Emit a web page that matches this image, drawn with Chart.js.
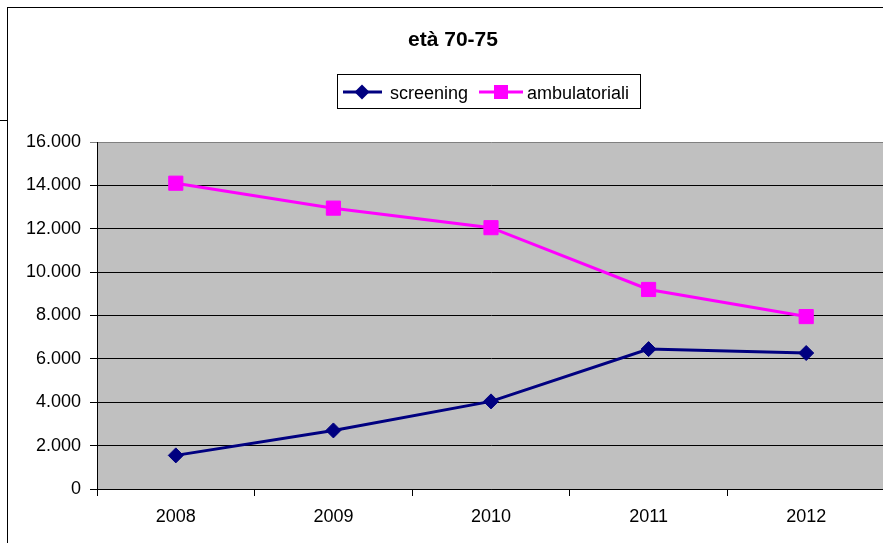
<!DOCTYPE html>
<html>
<head>
<meta charset="utf-8">
<title>età 70-75</title>
<script src="https://cdn.jsdelivr.net/npm/chart.js@4.4.1/dist/chart.umd.min.js"></script>
<style>
  html, body { margin: 0; padding: 0; background: #fff; overflow: hidden; width: 883px; height: 543px; }
  #frame { position: absolute; left: 7px; top: 7px; width: 1000px; height: 1000px; border-left: 1px solid #000; border-top: 1px solid #000; }
  #stub  { position: absolute; left: 0; top: 120px; width: 7px; height: 1px; background: #000; }
  #wrap  { position: absolute; left: 0; top: 0; width: 896px; height: 543px; }
</style>
</head>
<body>
<div id="frame"></div>
<div id="stub"></div>
<div id="wrap"><canvas id="chart" width="896" height="543"></canvas></div>

<script>
// ── Dati ──
const TITLE = 'età 70-75';
const anni = ['2008', '2009', '2010', '2011', '2012'];
const screening      = [1550, 2700, 4040, 6450, 6270];
const ambulatoriali  = [14100, 12950, 12050, 9200, 7950];
const Y_MIN = 0, Y_MAX = 16000, Y_STEP = 2000;

const FONT = "'Liberation Sans', Arial, sans-serif";
const NAVY = '#000080';
const PINK = '#FF00FF';

// numeri all'italiana: 16.000
function fmtIt(v) {
  return String(Math.round(v)).replace(/\B(?=(\d{3})+(?!\d))/g, '.');
}

// sfondo grigio area del grafico
const plotBg = {
  id: 'plotBg',
  beforeDraw(chart) {
    const { ctx, chartArea: a } = chart;
    ctx.save();
    ctx.fillStyle = '#C0C0C0';
    ctx.fillRect(a.left, a.top, a.right - a.left, a.bottom - a.top);
    ctx.restore();
  }
};

// titolo + legenda con cornice (stile Excel)
const header = {
  id: 'header',
  afterDraw(chart) {
    const ctx = chart.ctx;
    ctx.save();
    ctx.fillStyle = '#000';
    ctx.font = 'bold 21px ' + FONT;
    ctx.textAlign = 'center';
    ctx.textBaseline = 'alphabetic';
    ctx.fillText(TITLE, 453, 46);

    // riquadro legenda
    ctx.strokeStyle = '#000';
    ctx.lineWidth = 1;
    ctx.strokeRect(337.5, 74.5, 303, 34);

    const ly = 92;
    // screening
    ctx.strokeStyle = NAVY; ctx.lineWidth = 3;
    ctx.beginPath(); ctx.moveTo(343, ly); ctx.lineTo(382, ly); ctx.stroke();
    ctx.fillStyle = NAVY;
    ctx.beginPath();
    ctx.moveTo(362 - 7.5, ly); ctx.lineTo(362, ly - 7.5); ctx.lineTo(362 + 7.5, ly); ctx.lineTo(362, ly + 7.5);
    ctx.closePath(); ctx.fill();
    // ambulatoriali
    ctx.strokeStyle = PINK;
    ctx.beginPath(); ctx.moveTo(479, ly); ctx.lineTo(523, ly); ctx.stroke();
    ctx.fillStyle = PINK;
    ctx.fillRect(501 - 7, ly - 7, 14, 14);

    ctx.fillStyle = '#000';
    ctx.font = '18px ' + FONT;
    ctx.textAlign = 'left';
    ctx.fillText('screening', 390, 99);
    ctx.fillText('ambulatoriali', 527, 99);
    ctx.restore();
  }
};

new Chart(document.getElementById('chart'), {
  type: 'line',
  data: {
    labels: anni,
    datasets: [
      {
        label: 'screening', data: screening,
        borderColor: NAVY, backgroundColor: NAVY, borderWidth: 3,
        pointStyle: 'rectRot', pointRadius: 7.5, pointBorderWidth: 1,
        pointBackgroundColor: NAVY, pointBorderColor: NAVY, tension: 0
      },
      {
        label: 'ambulatoriali', data: ambulatoriali,
        borderColor: PINK, backgroundColor: PINK, borderWidth: 3,
        pointStyle: 'rect', pointRadius: 10, pointBorderWidth: 1,
        pointBackgroundColor: PINK, pointBorderColor: PINK, tension: 0
      }
    ]
  },
  options: {
    responsive: false,
    animation: false,
    layout: { padding: { top: 142, left: 0, right: 0, bottom: 14 } },
    plugins: { legend: { display: false }, title: { display: false }, tooltip: { enabled: false } },
    scales: {
      x: {
        offset: true,
        grid: { offset: true, drawOnChartArea: false, drawTicks: true, tickLength: 7, color: '#000' },
        border: { color: '#000', width: 1 },
        ticks: { color: '#000', padding: 10, font: { family: FONT, size: 18 }, maxRotation: 0 },
        afterFit(scale) { scale.height = 40; }
      },
      y: {
        min: Y_MIN, max: Y_MAX,
        grid: {
          tickLength: 7,
          color: ctx => (ctx.tick && ctx.tick.value === Y_MAX) ? '#808080' : '#000',
          lineWidth: 1
        },
        border: { color: '#000', width: 1 },
        ticks: { stepSize: Y_STEP, color: '#000', padding: 9, font: { family: FONT, size: 18 }, callback: v => fmtIt(v) },
        afterFit(scale) { scale.width = 97; }
      }
    }
  },
  plugins: [plotBg, header]
});
</script>
</body>
</html>
